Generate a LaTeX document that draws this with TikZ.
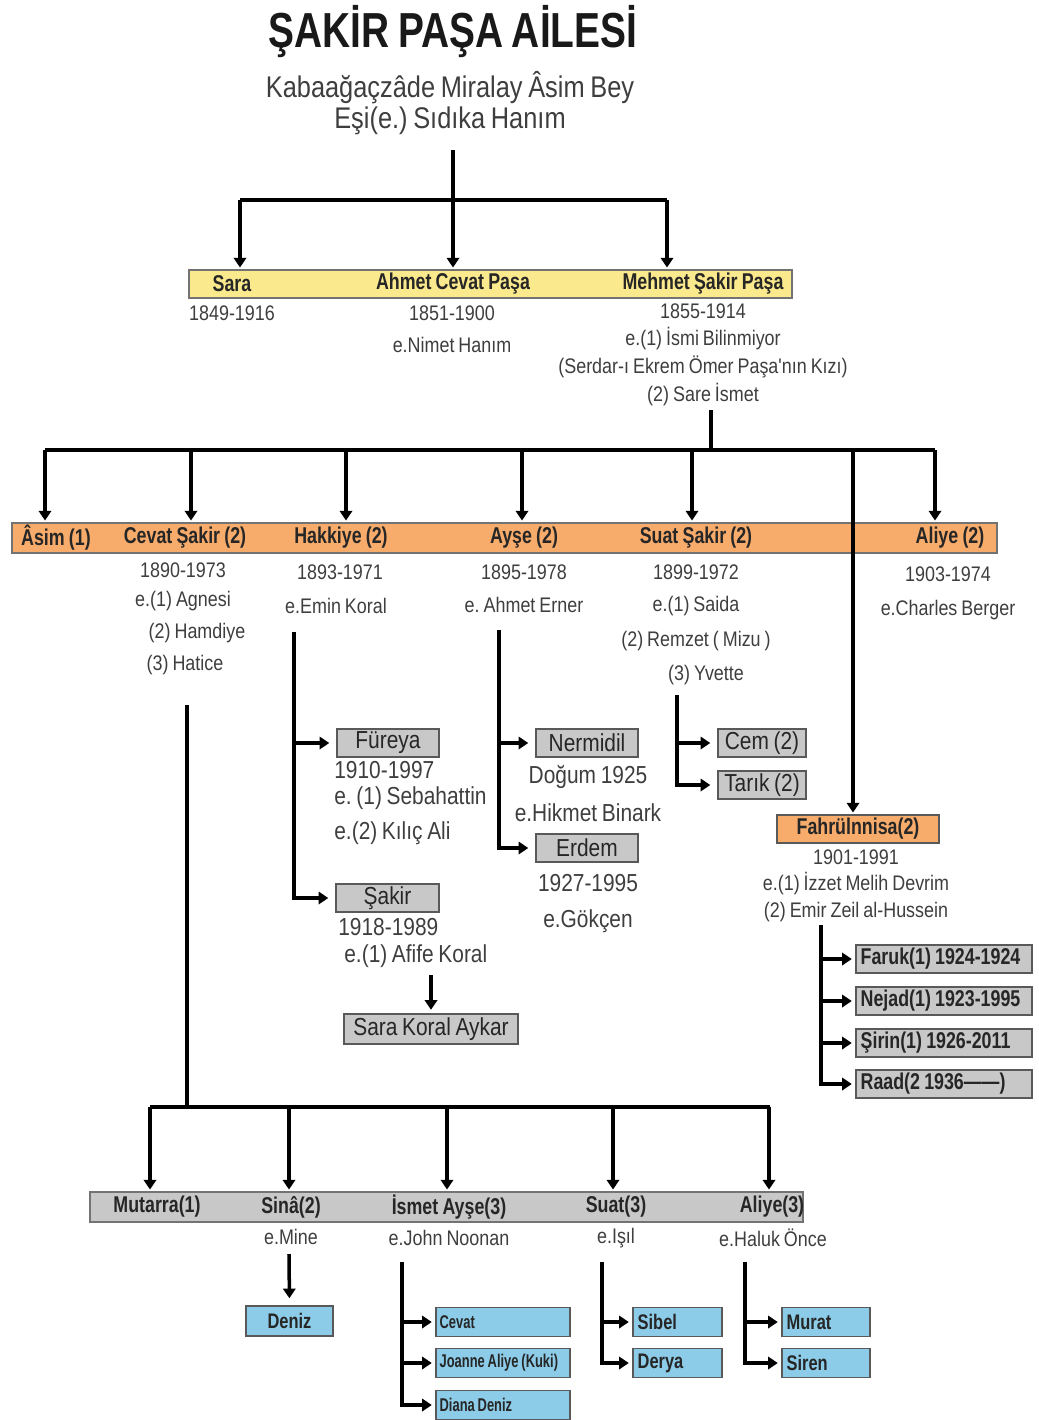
\documentclass[tikz,border=0pt]{standalone}
\usepackage{fontspec}
\usepackage{tikz}
\usetikzlibrary{arrows.meta}
\setmainfont{Liberation Sans}
\newfontfamily\narrow[FakeStretch=0.85,WordSpace=0.8]{Liberation Sans}
\newfontfamily\narrowb[FakeStretch=0.78,WordSpace=0.85]{Liberation Sans}
\newfontfamily\narrowerb[FakeStretch=0.70,WordSpace=0.8]{Liberation Sans}
\newfontfamily\titlefont[FakeStretch=0.79,WordSpace=0.8]{Liberation Sans}
\definecolor{ybar}{RGB}{251,233,141}
\definecolor{obar}{RGB}{248,172,108}
\definecolor{gbox}{RGB}{200,200,200}
\definecolor{bbox}{RGB}{140,204,232}
\definecolor{txt}{RGB}{62,62,62}
\frenchspacing

\begin{document}
\begin{tikzpicture}[x=0.02cm, y=-0.02cm,
  line/.style={black, line width=2pt},
  arr/.style={black, line width=2pt, -{Triangle[length=5.5pt,width=7pt]}, shorten >=1pt},
  dat/.style={inner sep=0pt, text=txt, font=\narrow\fontsize{12}{14}\selectfont},
  big/.style={inner sep=0pt, text=txt, font=\narrow\fontsize{14}{16}\selectfont},
  lab/.style={inner sep=0pt, text=black!85, font=\narrowb\bfseries\fontsize{13}{15}\selectfont},
  bar/.style={draw=black!55, line width=0.8pt, inner sep=0pt},
  box/.style={draw=black!65, fill=gbox, line width=0.8pt, inner sep=0pt, minimum height=0.56cm, text=black!85, font=\narrow\fontsize{14}{16}\selectfont},
  blue/.style={box, fill=bbox, minimum height=0.58cm, font=\narrowb\bfseries\fontsize{12}{14}\selectfont},
  kidtxt/.style={lab, anchor=west},
  bluetxt/.style={inner sep=0pt, anchor=west, text=black!85, font=\narrowb\bfseries\fontsize{12}{14}\selectfont},
  smalltxt/.style={inner sep=0pt, anchor=west, text=black!85, font=\narrowerb\bfseries\fontsize{10.5}{12}\selectfont}]
\useasboundingbox (0,0) rectangle (1038,1420);

\node[inner sep=0pt, text=black!90, font=\titlefont\bfseries\fontsize{28}{30}\selectfont] (title) at (453,32) {ŞAKİR PAŞA AİLESİ};
\node[inner sep=0pt, text=txt, font=\narrow\fontsize{17}{19}\selectfont] (sub1) at (450,88) {Kabaağaçzâde Miralay Âsim Bey};
\node[inner sep=0pt, text=txt, font=\narrow\fontsize{17}{19}\selectfont] (sub2) at (450,121) {Eşi(e.) Sıdıka Hanım};

% first generation
\node[bar, fill=ybar, minimum width=12.06cm, minimum height=0.56cm] (ybar) at (490.5,284) {};
\node[lab] (sara) at (232,284) {Sara};
\node[lab] (ahmet) at (453,284) {Ahmet Cevat Paşa};
\node[lab] (mehmet) at (703,284) {Mehmet Şakir Paşa};
\coordinate (p0) at (453,150);
\coordinate (c1) at (240,200);
\coordinate (c2) at (453,200);
\coordinate (c3) at (667,200);
\draw[line] (p0) -- (c2);
\draw[line] (c1) -- (c3);
\foreach \c in {c1,c2,c3}{
  \draw[arr] (\c) -- (\c |- ybar.north);
}
\node[dat] (sarad) at (232,313) {1849-1916};
\node[dat] (ahmetd) at (452,313) {1851-1900};
\node[dat] (ahmete) at (452,345) {e.Nimet Hanım};
\foreach \y/\t [count=\i] in {311/1855-1914, 339/e.(1) İsmi Bilinmiyor, 367/(Serdar-ı Ekrem Ömer Paşa'nın Kızı), 395/(2) Sare İsmet}{
  \node[dat] (mehmet\i) at (703,\y) {\t};
}

% second generation
\node[bar, fill=obar, minimum width=19.7cm, minimum height=0.6cm] (obar) at (504.5,538) {};
\node[lab] (asim) at (56,538) {Âsim (1)};
\node[lab] (cevat) at (185,538) {Cevat Şakir (2)};
\node[lab] (hakkiye) at (341,538) {Hakkiye (2)};
\node[lab] (ayse) at (524,538) {Ayşe (2)};
\node[lab] (suat) at (696,538) {Suat Şakir (2)};
\node[lab] (aliye) at (950,538) {Aliye (2)};
\node[box, fill=obar, minimum width=3.24cm, font=\narrowb\bfseries\fontsize{13}{15}\selectfont] (fahr) at (858,829) {Fahrülnnisa(2)};
\coordinate (q0) at (711,410);
\coordinate (q1) at (711,450);
\coordinate (qa) at (45,450);
\coordinate (qb) at (935,450);
\coordinate (qf) at (853,450);
\draw[line] (q0) -- (q1);
\draw[line] (qa) -- (qb);
\foreach \x in {45,191,346,522,692,935}{
  \draw[arr] (\x,450) -- (\x,450 |- obar.north);
}
\draw[arr] (qf) -- (qf |- fahr.north);

\node[dat] (cevat1) at (183,570) {1890-1973};
\node[dat] (cevat2) at (183,601) {e.(1) Agnesi};
\node[dat] (cevat3) at (197,633) {(2) Hamdiye};
\node[dat] (cevat4) at (185,665) {(3) Hatice};
\node[dat] (hakkiye1) at (340,572) {1893-1971};
\node[dat] (hakkiye2) at (336,606) {e.Emin Koral};
\node[dat] (ayse1) at (524,572) {1895-1978};
\node[dat] (ayse2) at (524,605) {e. Ahmet Erner};
\node[dat] (suat1) at (696,572) {1899-1972};
\node[dat] (suat2) at (696,606) {e.(1) Saida};
\node[dat] (suat3) at (696,641) {(2) Remzet ( Mizu )};
\node[dat] (suat4) at (706,675) {(3) Yvette};
\node[dat] (aliye1) at (948,574) {1903-1974};
\node[dat] (aliye2) at (948,610) {e.Charles Berger};

% Hakkiye
\node[box, minimum width=2.04cm] (fureya) at (388,743) {Füreya};
\node[big, anchor=west] (fureya1) at (334,770) {1910-1997};
\node[big, anchor=west] (fureya2) at (334,798) {e. (1) Sebahattin};
\node[big, anchor=west] (fureya3) at (334,833) {e.(2) Kılıç Ali};
\node[box, minimum width=2.06cm] (sakir) at (387.5,898) {Şakir};
\node[big, anchor=west] (sakir1) at (338,927) {1918-1989};
\node[big, anchor=west] (sakir2) at (344,956) {e.(1) Afife Koral};
\node[box, minimum width=3.48cm, minimum height=0.6cm] (saraK) at (431,1029) {Sara Koral Aykar};
\coordinate (h0) at (294,632);
\coordinate (h1) at (431,975);
\draw[arr, shorten >=4pt] (h0) |- (fureya.west);
\draw[arr, shorten >=4pt] (h0) |- (sakir.west);
\draw[arr, shorten >=2pt] (h1) -- (saraK.north);

% Ayse
\node[box, minimum width=2.04cm] (nermidil) at (587,743) {Nermidil};
\node[big] (nermidil1) at (588,777) {Doğum 1925};
\node[big] (nermidil2) at (588,813) {e.Hikmet Binark};
\node[box, minimum width=2.04cm] (erdem) at (587,848) {Erdem};
\node[big] (erdem1) at (588,883) {1927-1995};
\node[big] (erdem2) at (588,921) {e.Gökçen};
\coordinate (a0) at (499,630);
\draw[arr, shorten >=4pt] (a0) |- (nermidil.west);
\draw[arr, shorten >=4pt] (a0) |- (erdem.west);

% Suat
\node[box, minimum width=1.76cm] (cem) at (762,743) {Cem (2)};
\node[box, minimum width=1.76cm] (tarik) at (762,785) {Tarık (2)};
\coordinate (s0) at (677,695);
\draw[arr, shorten >=4pt] (s0) |- (cem.west);
\draw[arr, shorten >=4pt] (s0) |- (tarik.west);

% Fahrulnnisa
\node[dat] (fahr1) at (856,857) {1901-1991};
\node[dat] (fahr2) at (856,884) {e.(1) İzzet Melih Devrim};
\node[dat] (fahr3) at (856,912) {(2) Emir Zeil al-Hussein};
\coordinate (f0) at (821,925);
\foreach \y/\t [count=\i] in {959/Faruk(1) 1924-1924, 1001/Nejad(1) 1923-1995, 1043/Şirin(1) 1926-2011, 1084/Raad(2 1936——)}{
  \node[box, minimum width=3.52cm] (fk\i) at (944,\y) {};
  \node[kidtxt] (fkt\i) at ([xshift=0.1cm]fk\i.west) {\t};
  \draw[arr, shorten >=2pt] (f0) |- (fk\i.west);
}

% Cevat Sakir
\node[bar, fill=gbox, minimum width=14.26cm, minimum height=0.6cm] (gbar) at (446.5,1207) {};
\node[lab] (mutarra) at (157,1207) {Mutarra(1)};
\node[lab] (sina) at (291,1207) {Sinâ(2)};
\node[lab] (ismet) at (449,1207) {İsmet Ayşe(3)};
\node[lab] (suat3) at (616,1207) {Suat(3)};
\node[lab] (aliye3) at (772,1207) {Aliye(3)};
\coordinate (v0) at (187,705);
\coordinate (v1) at (187,1107);
\coordinate (va) at (150,1107);
\coordinate (vb) at (770,1107);
\draw[line] (v0) -- (v1);
\draw[line] (va) -- (vb);
\foreach \x in {150,289,447,613,769}{
  \draw[arr] (\x,1107) -- (\x,1107 |- gbar.north);
}
\node[dat] (sina1) at (291,1237) {e.Mine};
\node[dat] (ismet1) at (449,1238) {e.John Noonan};
\node[dat] (suat31) at (616,1238) {e.Işıl};
\node[dat] (aliye31) at (773,1238) {e.Haluk Önce};

\node[blue, minimum width=1.74cm, minimum height=0.6cm] (deniz) at (289.5,1321) {Deniz};
\coordinate (d0) at (289,1254);
\draw[arr, shorten >=4pt] (d0) -- (deniz.north);

\coordinate (i0) at (402,1262);
\foreach \y/\t [count=\i] in {1322/Cevat, 1363/Joanne Aliye (Kuki), 1405/Diana Deniz}{
  \node[blue, minimum width=2.68cm] (ik\i) at (503,\y) {};
  \node[smalltxt] (ikt\i) at ([xshift=0.08cm]ik\i.west) {\t};
  \draw[arr, shorten >=2pt] (i0) |- (ik\i.west);
}
\coordinate (u0) at (602,1262);
\foreach \y/\t [count=\i] in {1322/Sibel, 1363/Derya}{
  \node[blue, minimum width=1.78cm] (uk\i) at (677.5,\y) {};
  \node[bluetxt] (ukt\i) at ([xshift=0.1cm]uk\i.west) {\t};
  \draw[arr, shorten >=2pt] (u0) |- (uk\i.west);
}
\coordinate (l0) at (745,1262);
\foreach \y/\t [count=\i] in {1322/Murat, 1363/Siren}{
  \node[blue, minimum width=1.76cm] (lk\i) at (826,\y) {};
  \node[bluetxt] (lkt\i) at ([xshift=0.1cm]lk\i.west) {\t};
  \draw[arr, shorten >=2pt] (l0) |- (lk\i.west);
}
\end{tikzpicture}
\end{document}
